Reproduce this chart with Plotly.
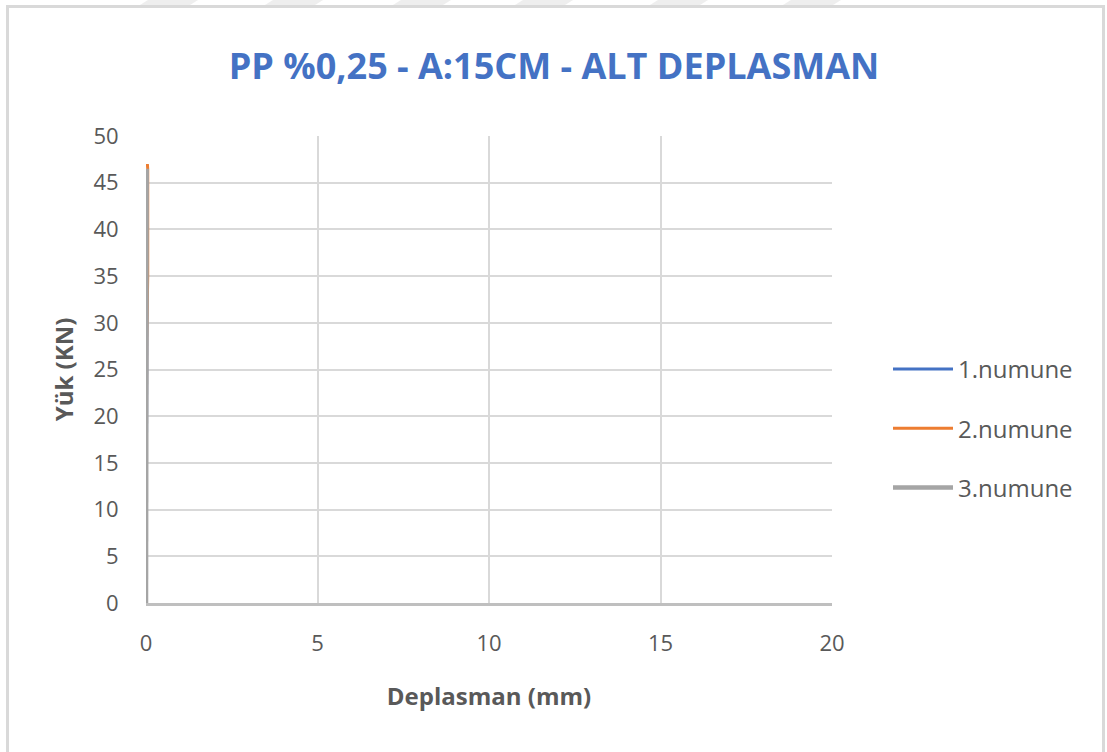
import plotly.graph_objects as go

# data (displacement mm, load kN)
s1_x = [0.0, 0.01, 0.02, 0.03, 0.04, 0.05, 0.04]
s1_y = [0.0, 10.0, 25.0, 38.0, 42.0, 45.0, 46.0]
s2_x = [0.0, 0.01, 0.02, 0.05, 0.06, 0.05, 0.04]
s2_y = [0.0, 12.0, 28.0, 35.0, 43.0, 46.5, 47.0]
s3_x = [0.0, 0.0, 0.01, 0.01, 0.02, 0.02]
s3_y = [0.0, 10.0, 20.0, 35.0, 44.0, 46.5]
names = ["1.numune", "2.numune", "3.numune"]
colors = ["#4472C4", "#ED7D31", "#A5A5A5"]

W, H = 1107, 752
L, R, T, B = 146, 832, 136, 603

fig = go.Figure()
for i, (xs, ys, n, c, w) in enumerate([(s1_x, s1_y, names[0], colors[0], 3),
                                       (s2_x, s2_y, names[1], colors[1], 3),
                                       (s3_x, s3_y, names[2], colors[2], 4.5)]):
    fig.add_trace(go.Scatter(x=xs, y=ys, mode="lines", name=n, legendgroup=f"g{i}",
                             line=dict(color=c, width=w)))

def px(x):
    return (x - L) / (R - L)

def py(y):
    return (B - y) / (B - T)

fig.update_layout(
    width=W, height=H,
    margin=dict(l=L, r=W - R, t=T, b=H - B),
    paper_bgcolor="white", plot_bgcolor="white",
    font=dict(family="Open Sans, sans-serif", color="#595959"),
    title=dict(text="<b>PP %0,25 - A:15CM - ALT DEPLASMAN</b>",
               x=554 / W, xanchor="center", y=1 - 66 / H, yanchor="middle",
               font=dict(size=36, color="#4472C4", family="Open Sans, sans-serif")),
    xaxis=dict(range=[0, 20], tickvals=[0, 5, 10, 15, 20], showgrid=True,
               gridcolor="#D9D9D9", gridwidth=2, zeroline=False,
               showline=True, linecolor="#BFBFBF", linewidth=3,
               tickfont=dict(size=22, family="Open Sans, sans-serif", color="#595959"),
               ticks="outside", ticklen=19, tickcolor="rgba(0,0,0,0)",
               title=dict(text="<b>Deplasman (mm)</b>", standoff=32,
                          font=dict(size=24, family="Open Sans, sans-serif", color="#595959"))),
    yaxis=dict(range=[0, 50], tickvals=list(range(0, 51, 5)), showgrid=True,
               gridcolor="#D9D9D9", gridwidth=2, zeroline=False,
               showline=False,
               tickfont=dict(size=22, family="Open Sans, sans-serif", color="#595959"),
               ticks="outside", ticklen=22, tickcolor="rgba(0,0,0,0)",
               title=dict(text="<b>Yük (KN)</b>", standoff=13,
                          font=dict(size=24, family="Open Sans, sans-serif", color="#595959"))),
    legend=dict(x=px(888), y=py(347), xanchor="left", yanchor="top",
                font=dict(size=24, family="Open Sans, sans-serif", color="#595959"),
                traceorder="grouped", tracegroupgap=25, itemwidth=60,
                bgcolor="rgba(0,0,0,0)"),
    showlegend=True,
)

# outer frame
fig.add_shape(type="rect", xref="paper", yref="paper",
              x0=px(7.5), x1=px(1103.5), y0=py(760), y1=py(6.5),
              line=dict(color="#D9D9D9", width=3), layer="below")

# faint diagonal watermark bands above the frame
band_starts = [140, 265, 393, 515, 650, 783]
for s in band_starts:
    path = (f"M {px(s)},{py(5)} L {px(s + 50)},{py(5)} "
            f"L {px(s + 58)},{py(0)} L {px(s + 8)},{py(0)} Z")
    fig.add_shape(type="path", xref="paper", yref="paper", path=path,
                  fillcolor="#EEEEEE", line=dict(width=0), layer="below")

fig.write_html("out.html", config={"displayModeBar": False},
               post_script="document.body.style.margin='0';document.body.style.overflow='hidden';")
